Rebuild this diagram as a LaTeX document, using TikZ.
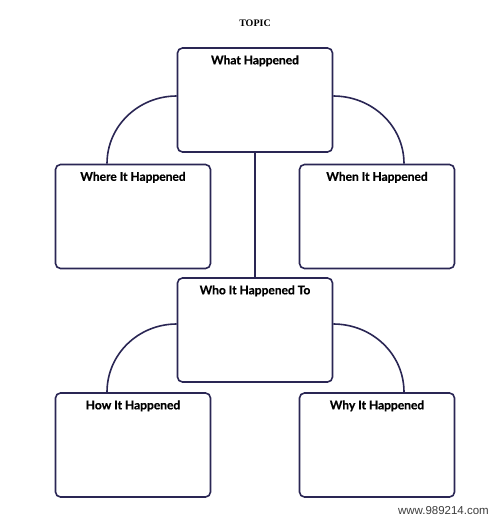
\documentclass[tikz,border=0pt]{standalone}
\usepackage{fontspec}
\newfontfamily\headfont{Lato}[BoldFeatures={FakeBold=0.6}]
\newfontfamily\topicfont{Liberation Serif}
\newfontfamily\markfont{Liberation Sans}
\begin{document}
\begin{tikzpicture}[x=1pt,y=-1pt,
  box/.style={draw=linecolor,line width=1.6pt,rounded corners=5pt,fill=white,
    minimum width=155pt,minimum height=104pt,inner sep=0pt},
  head/.style={anchor=north,inner sep=0pt,yshift=-8pt,
    font=\headfont\bfseries\fontsize{12}{14}\selectfont},
  link/.style={draw=linecolor,line width=1.6pt}]
\definecolor{linecolor}{RGB}{42,38,84}
\definecolor{markcolor}{RGB}{60,60,60}
\useasboundingbox (0,0) rectangle (503,520);
\node (topic) at (255,23) {\topicfont\bfseries\fontsize{10}{12}\selectfont TOPIC};
\node [box,label={[head]north:What Happened}] (what) at (255,100) {};
\node [box,label={[head]north:Where It Happened}] (where) at (133,216.5) {};
\node [box,label={[head]north:When It Happened}] (when) at (377,216.5) {};
\node [box,label={[head]north:Who It Happened To}] (who) at (255,330) {};
\node [box,label={[head]north:How It Happened}] (how) at (133,445) {};
\node [box,label={[head]north:Why It Happened}] (why) at (377,445) {};
\draw [link] ([yshift=4pt]what.west) to[out=180,in=90] ([xshift=-26pt]where.north);
\draw [link] ([yshift=4pt]what.east) to[out=0,in=90] ([xshift=27pt]when.north);
\draw [link] (what.south) -- (who.north);
\draw [link] ([yshift=6pt]who.west) to[out=180,in=90] ([xshift=-26pt]how.north);
\draw [link] ([yshift=6pt]who.east) to[out=0,in=90] ([xshift=27pt]why.north);
\node [anchor=east,text=markcolor,inner sep=0pt] (mark) at (489,511)
  {\markfont\fontsize{11.5}{13}\selectfont www.989214.com};
\end{tikzpicture}
\end{document}
